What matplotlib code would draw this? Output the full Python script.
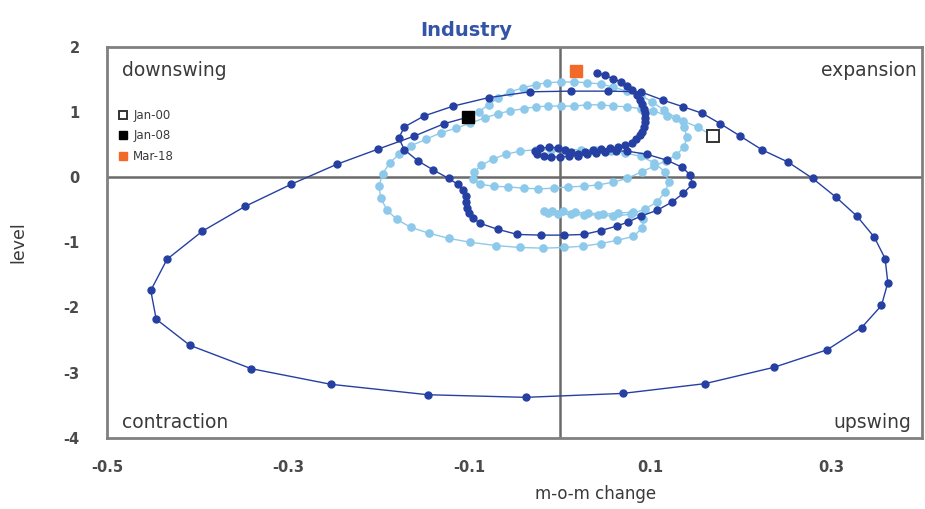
import matplotlib
matplotlib.use("Agg")
import matplotlib.pyplot as plt
from matplotlib.lines import Line2D

# ------------------------------------------------------------
# Data
# ------------------------------------------------------------
# Jan-00 .. Dec-07
light_x = [0.169, 0.152, 0.136, 0.118, 0.103, 0.089, 0.074, 0.059, 0.045, 0.030,
           0.015, 0.001, -0.013, -0.027, -0.040, -0.055, -0.069, -0.083, -0.099, -0.115,
           -0.132, -0.148, -0.165, -0.178, -0.188, -0.196, -0.200, -0.198, -0.191, -0.180,
           -0.165, -0.145, -0.123, -0.099, -0.071, -0.044, -0.019, 0.004, 0.025, 0.045,
           0.063, 0.081, 0.091, 0.092, 0.081, 0.064, 0.048, 0.031, 0.016, 0.003,
           -0.009, -0.018, -0.013, -0.002, 0.012, 0.027, 0.042, 0.059, 0.078, 0.094,
           0.107, 0.116, 0.120, 0.116, 0.104, 0.089, 0.072, 0.056, 0.039, 0.023,
           0.006, -0.010, -0.027, -0.044, -0.060, -0.074, -0.087, -0.095, -0.096, -0.088,
           -0.073, -0.057, -0.040, -0.024, -0.007, 0.009, 0.026, 0.042, 0.058, 0.074,
           0.090, 0.104, 0.117, 0.128, 0.137, 0.140, 0.137, 0.128, 0.115, 0.102,
           0.089, 0.074, 0.059, 0.045, 0.030, 0.015, 0.001, -0.014, -0.027, -0.041,
           -0.055, -0.068, -0.079, -0.090]
light_y = [0.63, 0.77, 0.86, 0.94, 1.02, 1.05, 1.08, 1.09, 1.11, 1.11,
           1.09, 1.09, 1.09, 1.08, 1.05, 1.02, 0.97, 0.91, 0.83, 0.75,
           0.68, 0.58, 0.48, 0.35, 0.22, 0.05, -0.14, -0.32, -0.51, -0.65,
           -0.77, -0.86, -0.94, -1.00, -1.05, -1.08, -1.09, -1.08, -1.06, -1.02,
           -0.97, -0.91, -0.78, -0.65, -0.54, -0.55, -0.57, -0.55, -0.54, -0.52,
           -0.52, -0.52, -0.55, -0.57, -0.57, -0.58, -0.58, -0.60, -0.57, -0.49,
           -0.38, -0.23, -0.08, 0.08, 0.22, 0.32, 0.37, 0.40, 0.42, 0.42,
           0.42, 0.42, 0.42, 0.40, 0.35, 0.28, 0.18, 0.08, -0.03, -0.11,
           -0.14, -0.15, -0.17, -0.18, -0.17, -0.15, -0.14, -0.12, -0.08, -0.02,
           0.08, 0.17, 0.25, 0.34, 0.46, 0.62, 0.77, 0.91, 1.03, 1.15,
           1.26, 1.32, 1.38, 1.43, 1.45, 1.46, 1.46, 1.45, 1.42, 1.37,
           1.31, 1.22, 1.11, 1.00]

# Jan-08 .. Mar-18
dark_x = [-0.102, -0.128, -0.161, -0.201, -0.246, -0.297, -0.348, -0.395, -0.434, -0.452,
          -0.446, -0.409, -0.341, -0.253, -0.146, -0.038, 0.069, 0.160, 0.236, 0.295,
          0.333, 0.355, 0.362, 0.359, 0.347, 0.328, 0.305, 0.279, 0.252, 0.223,
          0.199, 0.177, 0.157, 0.136, 0.114, 0.089, 0.053, 0.012, -0.033, -0.079,
          -0.118, -0.150, -0.172, -0.178, -0.172, -0.157, -0.140, -0.123, -0.113, -0.107,
          -0.104, -0.104, -0.103, -0.101, -0.096, -0.088, -0.069, -0.047, -0.021, 0.004,
          0.026, 0.045, 0.063, 0.075, 0.089, 0.107, 0.124, 0.136, 0.146, 0.144,
          0.135, 0.118, 0.096, 0.074, 0.062, 0.050, 0.040, 0.030, 0.020, 0.010,
          0.000, -0.010, -0.018, -0.025, -0.028, -0.022, -0.012, -0.002, 0.006, 0.012,
          0.020, 0.028, 0.036, 0.045, 0.055, 0.064, 0.072, 0.079, 0.084, 0.088,
          0.091, 0.093, 0.094, 0.094, 0.094, 0.093, 0.091, 0.088, 0.085, 0.080,
          0.074, 0.067, 0.059, 0.050, 0.041]
dark_y = [0.92, 0.82, 0.63, 0.43, 0.20, -0.11, -0.45, -0.83, -1.26, -1.74,
          -2.18, -2.58, -2.94, -3.18, -3.34, -3.38, -3.32, -3.17, -2.92, -2.65,
          -2.31, -1.97, -1.62, -1.25, -0.92, -0.60, -0.31, -0.02, 0.23, 0.42,
          0.63, 0.82, 0.98, 1.08, 1.18, 1.31, 1.32, 1.32, 1.31, 1.22,
          1.09, 0.94, 0.77, 0.60, 0.42, 0.25, 0.11, -0.02, -0.11, -0.20,
          -0.29, -0.38, -0.48, -0.55, -0.63, -0.71, -0.80, -0.88, -0.89, -0.89,
          -0.88, -0.82, -0.75, -0.69, -0.60, -0.51, -0.38, -0.25, -0.11, 0.03,
          0.15, 0.26, 0.35, 0.40, 0.40, 0.39, 0.37, 0.35, 0.33, 0.32,
          0.31, 0.31, 0.33, 0.36, 0.40, 0.44, 0.46, 0.45, 0.42, 0.38,
          0.36, 0.38, 0.41, 0.43, 0.44, 0.46, 0.49, 0.53, 0.58, 0.64,
          0.70, 0.77, 0.84, 0.91, 0.98, 1.05, 1.12, 1.19, 1.26, 1.33,
          1.40, 1.46, 1.51, 1.56, 1.60]

mark_labels = ["Jan-00", "Jan-08", "Mar-18"]
mark_x = [0.169, -0.102, 0.018]
mark_y = [0.63, 0.92, 1.63]

x_ticks = [-0.5, -0.3, -0.1, 0.1, 0.3]
y_ticks = [2, 1, 0, -1, -2, -3, -4]

quadrants = ["downswing", "expansion", "contraction", "upswing"]

# ------------------------------------------------------------
# Figure
# ------------------------------------------------------------
DARK = "#2540a2"
LIGHT = "#8dc9ea"
GREY = "#808080"
TXT = "#3a3a3a"

fig = plt.figure(figsize=(9.25, 5.09), dpi=100)
ax = fig.add_axes([0.116, 0.140, 0.881, 0.768])

ax.axhline(0, color="#6a6a6a", lw=1.8, zorder=1)
ax.axvline(0, color="#6a6a6a", lw=1.8, zorder=1)

ax.plot(light_x, light_y, color=LIGHT, lw=1.0, marker="o", ms=5.2,
        mec=LIGHT, mfc=LIGHT, zorder=2)
ax.plot(dark_x, dark_y, color=DARK, lw=1.0, marker="o", ms=5.0,
        mec=DARK, mfc=DARK, zorder=3)

# highlighted months
styles = [dict(mfc="white", mec="#333333", mew=1.4),
          dict(mfc="black", mec="black", mew=1.0),
          dict(mfc="#f26a2a", mec="#f26a2a", mew=1.0)]
for xv, yv, st in zip(mark_x, mark_y, styles):
    ax.plot([xv], [yv], marker="s", ms=8, ls="none", zorder=5, **st)

handles = [Line2D([], [], marker="s", ls="none", ms=5.5, **st) for st in styles]
leg = ax.legend(handles, mark_labels, loc="upper left", bbox_to_anchor=(0.0, 0.865),
                frameon=False, fontsize=8.5, handletextpad=0.4, labelspacing=0.62,
                handlelength=1.0, borderaxespad=0.4)
for t in leg.get_texts():
    t.set_color(TXT)

ax.set_xlim(-0.5, 0.4)
ax.set_ylim(-4, 2)
ax.set_xticks(x_ticks)
ax.set_xticklabels([f"{v:g}" for v in x_ticks])
ax.set_yticks(y_ticks)
ax.set_yticklabels([f"{v:g}" for v in y_ticks])
ax.tick_params(length=0, labelsize=10.5, labelcolor="#4a4a4a")
ax.tick_params(axis="x", pad=16)
ax.tick_params(axis="y", pad=20)
for lab in ax.get_xticklabels() + ax.get_yticklabels():
    lab.set_fontweight("bold")

for sp in ax.spines.values():
    sp.set_color(GREY)
    sp.set_linewidth(2)

# quadrant names
ax.text(0.018, 0.965, quadrants[0], transform=ax.transAxes, ha="left", va="top",
        fontsize=13.5, color=TXT)
ax.text(0.993, 0.965, quadrants[1], transform=ax.transAxes, ha="right", va="top",
        fontsize=13.5, color=TXT)
ax.text(0.018, 0.015, quadrants[2], transform=ax.transAxes, ha="left", va="bottom",
        fontsize=13.5, color=TXT)
ax.text(0.987, 0.015, quadrants[3], transform=ax.transAxes, ha="right", va="bottom",
        fontsize=13.5, color=TXT)

fig.text(466 / 925, 1 - 30 / 509, "Industry", ha="center", va="center",
         fontsize=14, fontweight="bold", color="#3454a8")
fig.text(596 / 925, 1 - 494 / 509, "m-o-m change", ha="center", va="center",
         fontsize=12, color=TXT)
fig.text(18 / 925, 1 - 242 / 509, "level", ha="center", va="center",
         fontsize=12.5, color=TXT, rotation=90)

fig.savefig("out.png", dpi=100, facecolor="white")
